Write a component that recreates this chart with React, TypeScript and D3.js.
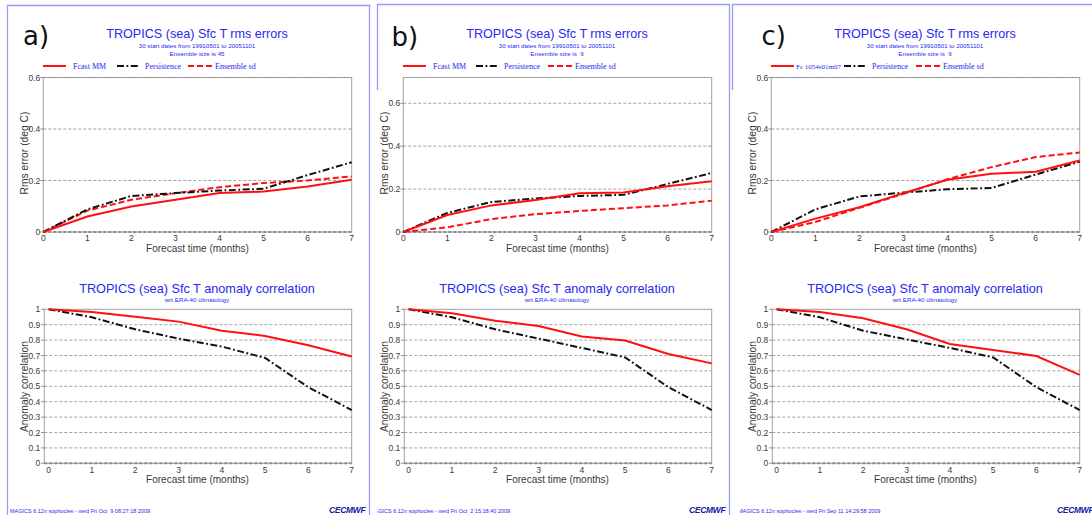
import React from "react";
import * as d3 from "d3";

// ---------- data ----------
const months = [0, 1, 2, 3, 4, 5, 6, 7];
const panelLabels = ["a)", "b)", "c)"];
const fcastNames = ["Fcast MM", "Fcast MM", "Fc 1054s01m07"];
const ensembleSizes = ["45", " 9", " 9"];
const footers = [
  "MAGICS 6.12n sophocles - nerd Fri Oct  9 08:27:18 2009",
  "MAGICS 6.12n sophocles - nerd Fri Oct  2 15:18:40 2009",
  "MAGICS 6.12n sophocles - nerd Fri Sep 11 14:29:58 2009",
];
const rmsTitle = "TROPICS (sea) Sfc T rms errors";
const rmsSub1 = "30 start dates from 19910501  to 20051101";
const accTitle = "TROPICS (sea) Sfc T anomaly correlation";
const accSub = "wrt ERA-40 climatology";
const xTitle = "Forecast time (months)";
const rmsYTitle = "Rms error (deg C)";
const accYTitle = "Anomaly correlation";
const persistenceName = "Persistence";
const ensembleName = "Ensemble sd";

// rms errors
const rmsFcastA = [0, 0.06, 0.099, 0.125, 0.151, 0.157, 0.177, 0.203];
const rmsPersA = [0, 0.088, 0.14, 0.151, 0.161, 0.168, 0.221, 0.271];
const rmsEnsA = [0, 0.083, 0.125, 0.151, 0.174, 0.19, 0.2, 0.216];

const rmsFcastB = [0, 0.079, 0.124, 0.149, 0.181, 0.184, 0.213, 0.237];
const rmsPersB = [0, 0.089, 0.14, 0.156, 0.168, 0.173, 0.224, 0.275];
const rmsEnsB = [0, 0.022, 0.06, 0.083, 0.098, 0.111, 0.124, 0.146];

const rmsFcastC = [0, 0.052, 0.096, 0.151, 0.203, 0.226, 0.234, 0.278];
const rmsPersC = [0, 0.088, 0.138, 0.153, 0.166, 0.171, 0.223, 0.273];
const rmsEnsC = [0, 0.039, 0.094, 0.148, 0.205, 0.252, 0.291, 0.309];

// anomaly correlation
const accFcastA = [1, 0.983, 0.952, 0.92, 0.861, 0.827, 0.766, 0.693];
const accPersA = [1, 0.948, 0.87, 0.81, 0.758, 0.684, 0.494, 0.346];
const accFcastB = [1, 0.974, 0.926, 0.892, 0.823, 0.797, 0.71, 0.649];
const accPersB = [1, 0.948, 0.87, 0.81, 0.749, 0.688, 0.494, 0.346];
const accFcastC = [1, 0.983, 0.942, 0.87, 0.775, 0.736, 0.697, 0.574];
const accPersC = [1, 0.948, 0.861, 0.805, 0.749, 0.688, 0.494, 0.346];

const rmsYMax = [0.6, 0.72, 0.6];
const rmsTicks = [0, 0.2, 0.4, 0.6];
const accTicks = [0, 0.1, 0.2, 0.3, 0.4, 0.5, 0.6, 0.7, 0.8, 0.9, 1];

const rmsSeries = [
  [rmsFcastA, rmsPersA, rmsEnsA],
  [rmsFcastB, rmsPersB, rmsEnsB],
  [rmsFcastC, rmsPersC, rmsEnsC],
];
const accSeries = [
  [accFcastA, accPersA],
  [accFcastB, accPersB],
  [accFcastC, accPersC],
];

// ---------- layout ----------
const panelDx = [0, 360, 728];
const labelX = [23, 391.5, 761.5];
const labelY = [45, 46, 45];
const legendX = [
  [43, 117, 188],
  [403, 476, 548],
  [771, 844, 916],
];
const footerClipX = [0, 377.5, 740];

const SANS = "'Liberation Sans', Arial, Helvetica, sans-serif";
const SERIF = "'Liberation Serif', 'Times New Roman', serif";
const BLUE = "#2727f0";
const RED = "#ff1010";
const GRID = "#8c8c8c";
const TXT = "#3a3a3a";
const DASHDOT = "7,2.5,1.8,2.5";
const DASHED = "6,3";

const fmt = (v: number) => (v === 0 ? "0" : v === 1 ? "1" : String(+v.toFixed(2)));

function Panel({ i }: { i: number }) {
  const dx = panelDx[i];
  const left = 43.3 + dx;
  const right = 351.7 + dx;
  const cx = 197 + dx;

  // top plot scales
  const xT = d3.scaleLinear().domain([0, 7]).range([left, right]);
  const yT = d3.scaleLinear().domain([0, rmsYMax[i]]).range([232, 77.5]);
  // bottom plot scales
  const xB = d3.scaleLinear().domain([-0.1, 7]).range([left + 1, right]);
  const yB = d3.scaleLinear().domain([0, 1]).range([463.3, 309.3]);

  const lineT = d3
    .line<number>()
    .x((_, k) => xT(months[k]))
    .y((d) => yT(d));
  const lineB = d3
    .line<number>()
    .x((_, k) => xB(months[k]))
    .y((d) => yB(d));

  const [rf, rp, re] = rmsSeries[i];
  const [af, ap] = accSeries[i];
  const lx = legendX[i];

  return (
    <g>
      {/* panel label */}
      <text x={labelX[i]} y={labelY[i]} fontFamily="'DejaVu Sans', sans-serif" fontSize={26} fill="#111">
        {panelLabels[i]}
      </text>
      {/* top titles */}
      <text x={cx} y={38} textAnchor="middle" fontFamily={SANS} fontSize={12.6} fill={BLUE}>
        {rmsTitle}
      </text>
      <text x={cx} y={48} textAnchor="middle" fontFamily={SANS} fontSize={6.2} fill={BLUE}>
        {rmsSub1}
      </text>
      <text x={cx} y={56} textAnchor="middle" fontFamily={SANS} fontSize={6.2} fill={BLUE} style={{ whiteSpace: "pre" }}>
        {"Ensemble size is " + ensembleSizes[i]}
      </text>
      {/* legend */}
      <line x1={lx[0]} x2={lx[0] + 23} y1={66} y2={66} stroke={RED} strokeWidth={2} />
      <text x={lx[0] + (i === 2 ? 25 : 30)} y={68.5} fontFamily={SERIF} fontSize={i === 2 ? 7 : 8} fill={BLUE}>
        {fcastNames[i]}
      </text>
      <line x1={lx[1]} x2={lx[1] + 22} y1={66} y2={66} stroke="#111" strokeWidth={2} strokeDasharray={DASHDOT} />
      <text x={lx[1] + 28} y={68.5} fontFamily={SERIF} fontSize={8} fill={BLUE}>
        {persistenceName}
      </text>
      <line x1={lx[2]} x2={lx[2] + 24} y1={66} y2={66} stroke={RED} strokeWidth={2} strokeDasharray={DASHED} />
      <text x={lx[2] + 27} y={68.5} fontFamily={SERIF} fontSize={8} fill={BLUE}>
        {ensembleName}
      </text>

      {/* top plot frame & grid */}
      <rect x={left} y={77.5} width={right - left} height={232 - 77.5} fill="none" stroke="#a0a0a0" strokeWidth={1} />
      {rmsTicks.map((t) => (
        <g key={"rt" + t}>
          <line
            x1={left}
            x2={right}
            y1={yT(t)}
            y2={yT(t)}
            stroke={GRID}
            strokeWidth={t === 0 ? 2 : 0.8}
            strokeDasharray="3,2"
          />
          <line x1={left - 3} x2={left} y1={yT(t)} y2={yT(t)} stroke={GRID} strokeWidth={1} />
          <text x={left - 3} y={yT(t) + 3} textAnchor="end" fontFamily={SANS} fontSize={8.5} fill={TXT}>
            {fmt(t)}
          </text>
        </g>
      ))}
      {months.map((m) => (
        <text key={"rx" + m} x={xT(m)} y={240.5} textAnchor="middle" fontFamily={SANS} fontSize={8.5} fill={TXT}>
          {m}
        </text>
      ))}
      <text x={(left + right) / 2} y={252} textAnchor="middle" fontFamily={SANS} fontSize={10} fill={TXT}>
        {xTitle}
      </text>
      <text
        transform={`translate(${27.5 + dx},${153}) rotate(-90)`}
        textAnchor="middle"
        fontFamily={SANS}
        fontSize={10.3}
        fill={TXT}
      >
        {rmsYTitle}
      </text>
      <path d={lineT(re) || ""} fill="none" stroke={RED} strokeWidth={2} strokeDasharray={DASHED} />
      <path d={lineT(rp) || ""} fill="none" stroke="#111" strokeWidth={2} strokeDasharray={DASHDOT} />
      <path d={lineT(rf) || ""} fill="none" stroke={RED} strokeWidth={2} />

      {/* bottom titles */}
      <text x={cx} y={292.5} textAnchor="middle" fontFamily={SANS} fontSize={12.7} fill={BLUE}>
        {accTitle}
      </text>
      <text x={cx} y={301.5} textAnchor="middle" fontFamily={SANS} fontSize={6.2} fill={BLUE}>
        {accSub}
      </text>
      <rect x={left + 1} y={309.3} width={right - left - 1} height={463.3 - 309.3} fill="none" stroke="#a0a0a0" strokeWidth={1} />
      {accTicks.map((t) => (
        <g key={"at" + t}>
          {t > 0 && t < 1 && (
            <line x1={left + 1} x2={right} y1={yB(t)} y2={yB(t)} stroke={GRID} strokeWidth={0.8} strokeDasharray="3,2" />
          )}
          {t === 0 && (
            <line x1={left + 1} x2={right} y1={yB(t)} y2={yB(t)} stroke={GRID} strokeWidth={2} strokeDasharray="3,2" />
          )}
          <line x1={left - 2} x2={left + 1} y1={yB(t)} y2={yB(t)} stroke={GRID} strokeWidth={1} />
          <text x={left - 3} y={yB(t) + 3} textAnchor="end" fontFamily={SANS} fontSize={8.5} fill={TXT}>
            {fmt(t)}
          </text>
        </g>
      ))}
      {months.map((m) => (
        <text key={"ax" + m} x={xB(m)} y={472.5} textAnchor="middle" fontFamily={SANS} fontSize={8.5} fill={TXT}>
          {m}
        </text>
      ))}
      <text x={(left + right) / 2} y={483} textAnchor="middle" fontFamily={SANS} fontSize={10} fill={TXT}>
        {xTitle}
      </text>
      <text
        transform={`translate(${27.5 + dx},${386.5}) rotate(-90)`}
        textAnchor="middle"
        fontFamily={SANS}
        fontSize={10.3}
        fill={TXT}
      >
        {accYTitle}
      </text>
      <path d={lineB(ap) || ""} fill="none" stroke="#111" strokeWidth={2} strokeDasharray={DASHDOT} />
      <path d={lineB(af) || ""} fill="none" stroke={RED} strokeWidth={2} />

      {/* footer */}
      <clipPath id={"fclip" + i}>
        <rect x={footerClipX[i]} y={495} width={400} height={20} />
      </clipPath>
      <text
        x={10 + dx}
        y={512.5}
        fontFamily={SANS}
        fontSize={5.5}
        fill={BLUE}
        clipPath={`url(#fclip${i})`}
        style={{ whiteSpace: "pre" }}
      >
        {footers[i]}
      </text>
      <g transform={`translate(${329 + dx},${513})`}>
        <text x={0} y={0} fontFamily={SANS} fontWeight="bold" fontStyle="italic" fontSize={8.5} fill="#1818a8" letterSpacing={-0.3}>
          {"CECMWF"}
        </text>
      </g>
    </g>
  );
}

export default function App() {
  const BORDER = "#9a9af4";
  return (
    <svg
      width={1092}
      height={515}
      viewBox="0 0 1092 515"
      style={{ position: "absolute", left: 0, top: 0, background: "#fff" }}
    >
      <rect x={0} y={0} width={1092} height={515} fill="#fff" />
      {/* panel borders */}
      <path d="M7.5,515 V5.5 H369.5 V515" fill="none" stroke={BORDER} strokeWidth={1.3} />
      <path d="M377.5,90 V4.5 H729.5 V515" fill="none" stroke={BORDER} strokeWidth={1.3} />
      <path d="M732.5,90 V4.5 H1092" fill="none" stroke={BORDER} strokeWidth={1.3} />
      {[0, 1, 2].map((i) => (
        <Panel key={i} i={i} />
      ))}
    </svg>
  );
}
